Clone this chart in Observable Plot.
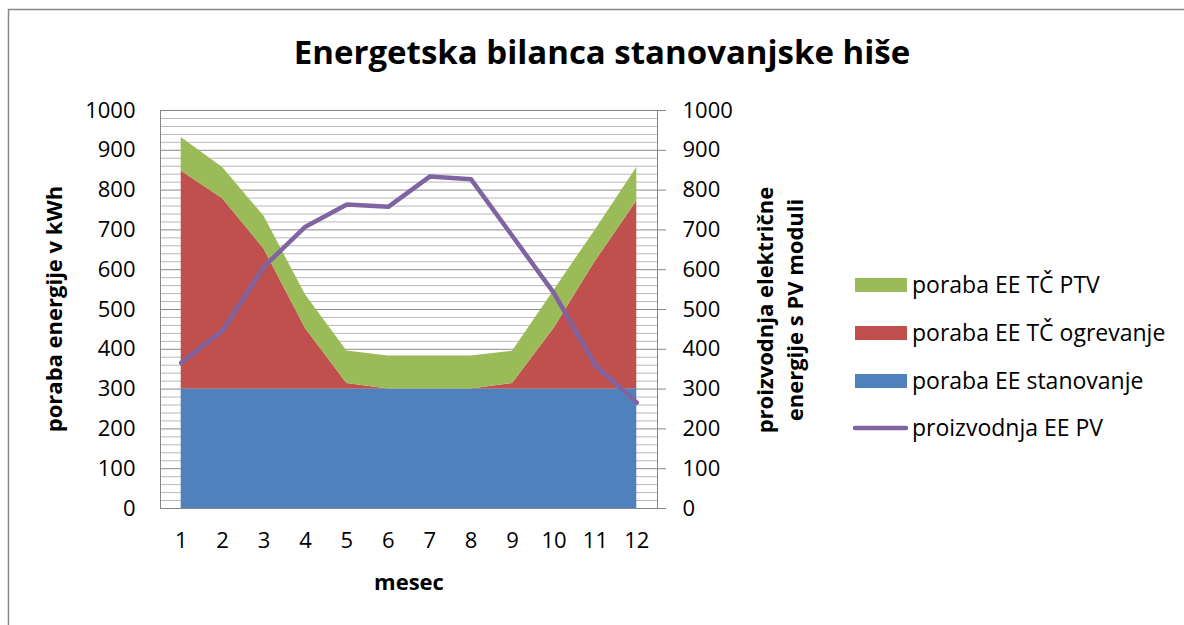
<!DOCTYPE html>
<html>
<head>
<meta charset="utf-8">
<script src="https://cdn.jsdelivr.net/npm/d3@7"></script>
<script src="https://cdn.jsdelivr.net/npm/@observablehq/plot@0.6"></script>
<style>
  body { margin: 0; background: #fff; }
  #chart { width: 1184px; height: 625px; overflow: hidden; }
</style>
</head>
<body>
<div id="chart"></div>
<script>
// ---- data ----
const months = [1, 2, 3, 4, 5, 6, 7, 8, 9, 10, 11, 12];
const porabaStanovanje = [300, 300, 300, 300, 300, 300, 300, 300, 300, 300, 300, 300];
const porabaOgrevanje  = [548, 478, 352, 152, 14, 0, 0, 0, 14, 152, 321, 472];
const porabaPTV        = [84, 79, 82, 85, 82, 83, 83, 83, 81, 96, 79, 85];
const proizvodnjaPV    = [366, 447, 608, 708, 764, 758, 834, 827, 684, 541, 360, 266];
const yTicks = [0, 100, 200, 300, 400, 500, 600, 700, 800, 900, 1000];
const yMinorStep = 20;

const title = "Energetska bilanca stanovanjske hiše";
const xTitle = "mesec";
const yTitleLeft = "poraba energije v kWh";
const yTitleRight = ["proizvodnja električne", "energije s PV moduli"];
const seriesNames = ["poraba EE TČ PTV", "poraba EE TČ ogrevanje", "poraba EE stanovanje", "proizvodnja EE PV"];
const colors = { ptv: "#9BBB59", ogr: "#C0504D", stan: "#4F81BD", pv: "#8064A2" };

// stacked table built from the arrays
const rows = months.map((m, i) => {
  const s = porabaStanovanje[i];
  const o = s + porabaOgrevanje[i];
  const p = o + porabaPTV[i];
  return { month: m, s, o, p, pv: proizvodnjaPV[i] };
});
const minorTicks = [];
for (let v = 0; v <= 1000; v += yMinorStep) if (v % 100 !== 0) minorTicks.push(v);

const FONT = "'Open Sans', Lato, sans-serif";

const chart = Plot.plot({
  width: 1184,
  height: 625,
  marginLeft: 160,
  marginRight: 527,
  marginTop: 110,
  marginBottom: 117,
  style: { fontFamily: FONT, fontSize: "22px", color: "#000", background: "#fff" },
  x: { type: "linear", domain: [0.5, 12.5] },
  y: { domain: [0, 1000] },
  marks: [
    Plot.ruleY(minorTicks, { stroke: "#b8b8b8", strokeWidth: 1 }),
    Plot.ruleY(yTicks, { stroke: "#8c8c8c", strokeWidth: 1 }),
    Plot.areaY(rows, { x: "month", y1: 0, y2: "s", fill: colors.stan }),
    Plot.areaY(rows, { x: "month", y1: "s", y2: "o", fill: colors.ogr }),
    Plot.areaY(rows, { x: "month", y1: "o", y2: "p", fill: colors.ptv }),
    Plot.lineY(rows, { x: "month", y: "pv", stroke: colors.pv, strokeWidth: 4.5, strokeLinejoin: "round", strokeLinecap: "round" }),
    Plot.frame({ stroke: "#868686" }),
    Plot.axisY(yTicks, { anchor: "left", tickSize: 0, tickPadding: 25, fontSize: 22, tickFormat: d3.format("d"), label: null }),
    Plot.axisY(yTicks, { anchor: "right", tickSize: 8, tickPadding: 17, stroke: "#868686", fontSize: 22, tickFormat: d3.format("d"), label: null }),
    Plot.axisX(months, { anchor: "bottom", tickSize: 0, tickPadding: 24, fontSize: 22, label: null })
  ]
});

document.getElementById("chart").appendChild(chart);

const svg = d3.select(chart);
// outer chart border
svg.append("rect").attr("x", 8.5).attr("y", 9.5).attr("width", 1300).attr("height", 800)
  .attr("fill", "none").attr("stroke", "#878787").attr("stroke-width", 1.5);

// title
svg.append("text").attr("x", 602).attr("y", 64).attr("text-anchor", "middle")
  .style("font-family", FONT).style("font-weight", "bold").style("font-size", "33px")
  .text(title);

// x title
svg.append("text").attr("x", 409).attr("y", 590).attr("text-anchor", "middle")
  .style("font-family", FONT).style("font-weight", "bold").style("font-size", "22px")
  .text(xTitle);

// left y title
svg.append("text").attr("transform", "translate(62,309) rotate(-90)").attr("text-anchor", "middle")
  .style("font-family", FONT).style("font-weight", "bold").style("font-size", "22px")
  .text(yTitleLeft);

// right y title (two lines)
yTitleRight.forEach((t, i) => {
  svg.append("text").attr("transform", `translate(${773 + i * 30},310) rotate(-90)`).attr("text-anchor", "middle")
    .style("font-family", FONT).style("font-weight", "bold").style("font-size", "22px")
    .text(t);
});

// legend
const legendRows = [
  { name: seriesNames[0], color: colors.ptv, y: 285, type: "rect" },
  { name: seriesNames[1], color: colors.ogr, y: 333, type: "rect" },
  { name: seriesNames[2], color: colors.stan, y: 381, type: "rect" },
  { name: seriesNames[3], color: colors.pv, y: 428, type: "line" }
];
legendRows.forEach(r => {
  if (r.type === "rect") {
    svg.append("rect").attr("x", 855).attr("y", r.y - 7).attr("width", 52).attr("height", 14).attr("fill", r.color);
  } else {
    svg.append("line").attr("x1", 855).attr("x2", 906).attr("y1", r.y).attr("y2", r.y)
      .attr("stroke", r.color).attr("stroke-width", 4.5).attr("stroke-linecap", "round");
  }
  svg.append("text").attr("x", 912).attr("y", r.y).attr("dy", "0.35em").attr("text-anchor", "start")
    .style("font-family", FONT).style("font-size", "23px").text(r.name);
});
</script>
</body>
</html>
